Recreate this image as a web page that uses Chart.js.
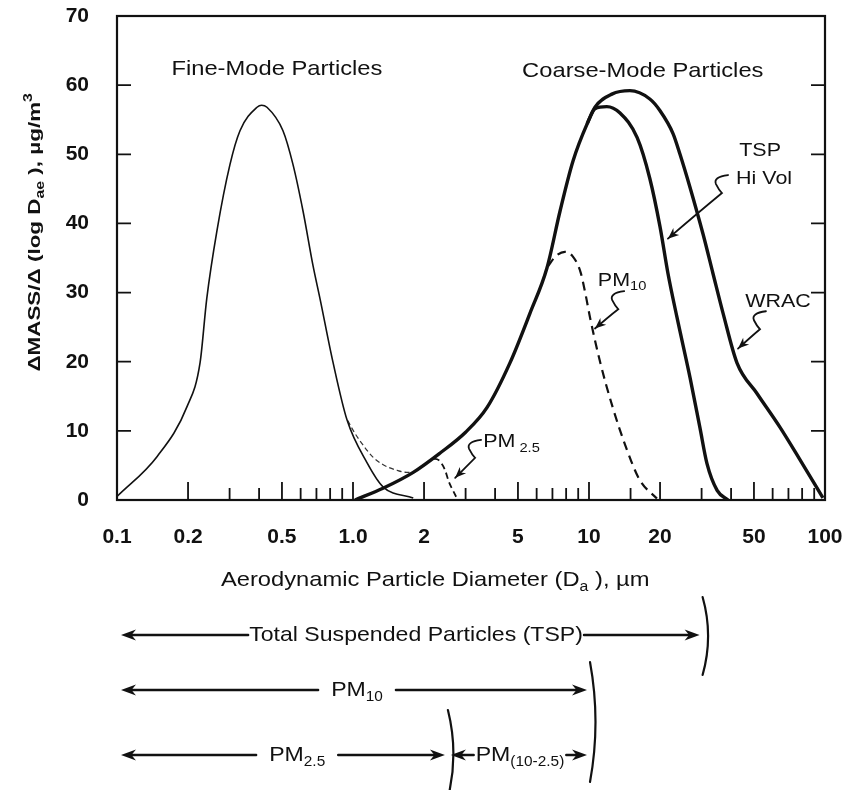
<!DOCTYPE html>
<html>
<head>
<meta charset="utf-8">
<script src="https://cdn.jsdelivr.net/npm/chart.js@4.4.1/dist/chart.umd.min.js"></script>
<style>
  html, body { margin: 0; padding: 0; background: #fff; }
</style>
</head>
<body>
<canvas id="chart" width="847" height="790"></canvas>
<script>
// ---- data (diameter in um, dM/dlogD in ug/m3) ----
var fineD = [0.1, 0.148, 0.198, 0.225, 0.24, 0.265, 0.301, 0.332, 0.392, 0.41, 0.432, 0.505, 0.557, 0.614, 0.677, 0.725, 0.823, 0.943, 1.146, 1.34, 1.8];
var fineV = [0.5, 6.3, 13.5, 19.9, 29.1, 38.9, 48.5, 53.4, 56.8, 57.1, 56.8, 53.4, 48.5, 41.8, 33.9, 29.1, 19.9, 11.6, 5.4, 1.9, 0.3];

// thin dashed PM2.5 tail between the modes
var pm25TailD = [0.95, 1.0, 1.1, 1.215, 1.36, 1.536, 1.69, 1.8];
var pm25TailV = [11.5, 10.1, 8.0, 6.2, 5.0, 4.3, 4.0, 4.0];

// small dashed PM2.5 cut-off in the coarse mode
var pm25CapD = [2.2, 2.3, 2.45, 2.55, 2.65, 2.78];
var pm25CapV = [6.0, 5.8, 4.4, 2.6, 1.4, 0];

// TSP Hi Vol (inner thick curve, shares the rising limb)
var tspD = [1.02, 1.34, 1.8, 2.34, 3.0, 3.7, 4.62, 5.62, 6.64, 7.54, 8.55, 9.82, 10.6, 11.9, 13.5, 16.0, 18.1, 20.0, 21.6, 23.6, 26.8, 29.5, 31.6, 34.9, 38.8];
var tspV = [0, 1.7, 4.0, 6.8, 9.8, 13.4, 19.8, 27.0, 33.6, 41.8, 49.0, 54.4, 56.6, 56.9, 56.0, 52.4, 46.5, 39.5, 32.8, 26.4, 17.7, 10.5, 5.3, 1.4, 0];

// WRAC (outer thick curve)
var wracD = [9.82, 10.6, 12.5, 14.9, 18.1, 20.0, 22.7, 24.3, 26.8, 30.4, 33.5, 37.0, 42.4, 51.5, 64.5, 78.4, 98];
var wracV = [54.4, 56.8, 58.7, 59.2, 58.0, 56.3, 53.0, 50.0, 45.2, 38.5, 32.8, 27.0, 19.8, 15.4, 10.5, 5.8, 0.3];

// PM10 (dashed)
var pm10D = [6.7, 7.2, 7.9, 8.5, 9.2, 9.7, 10.1, 11.1, 12.6, 14.5, 16.4, 19.4];
var pm10V = [33.8, 35.2, 35.9, 35.3, 33.0, 29.5, 26.4, 20.2, 13.4, 7.2, 2.9, 0.2];

var xTickVals = [0.1, 0.2, 0.5, 1, 2, 5, 10, 20, 50, 100];
var xTickLabels = ['0.1', '0.2', '0.5', '1.0', '2', '5', '10', '20', '50', '100'];
var xMarksTall = [0.2, 0.5, 1, 2, 5, 10, 20, 50];
var xMarksShort = [0.3, 0.4, 0.6, 0.7, 0.8, 0.9, 3, 4, 6, 7, 8, 9, 15, 30, 40, 60, 70, 80, 90];
var yMarks = [10, 20, 30, 40, 50, 60];

var INK = '#111';
var FAM = "'Liberation Sans', Arial, sans-serif";

function pts(xs, ys) {
  return xs.map(function (x, i) { return { x: x, y: ys[i] }; });
}

// text with sub/superscript pieces: parts = [[text, 'n'|'sub'|'sup'], ...]
function richText(ctx, parts, x, y, size, opts) {
  opts = opts || {};
  var sx = opts.sx || 1, weight = opts.weight || 'normal', align = opts.align || 'center';
  function fontFor(p) {
    var fs = p[1] === 'n' ? size : Math.round(size * 0.68);
    return weight + ' ' + fs + 'px ' + FAM;
  }
  var widths = parts.map(function (p) {
    ctx.font = fontFor(p);
    return ctx.measureText(p[0]).width;
  });
  var total = widths.reduce(function (a, b) { return a + b; }, 0);
  ctx.save();
  ctx.translate(x, y);
  if (opts.rotate) ctx.rotate(opts.rotate);
  ctx.scale(sx, 1);
  ctx.textAlign = 'left';
  ctx.textBaseline = 'middle';
  ctx.fillStyle = INK;
  var cx = align === 'center' ? -total / 2 : (align === 'right' ? -total : 0);
  parts.forEach(function (p, i) {
    ctx.font = fontFor(p);
    var dy = p[1] === 'sub' ? size * 0.32 : (p[1] === 'sup' ? -size * 0.38 : 0);
    ctx.fillText(p[0], cx, dy);
    cx += widths[i];
  });
  ctx.restore();
  return total * sx;
}

function head(ctx, x, y, ang, len, half) {
  ctx.beginPath();
  ctx.moveTo(x, y);
  ctx.lineTo(x - len * Math.cos(ang) + half * Math.sin(ang), y - len * Math.sin(ang) - half * Math.cos(ang));
  ctx.lineTo(x - len * 0.7 * Math.cos(ang), y - len * 0.7 * Math.sin(ang));
  ctx.lineTo(x - len * Math.cos(ang) - half * Math.sin(ang), y - len * Math.sin(ang) + half * Math.cos(ang));
  ctx.closePath();
  ctx.fill();
}

// labels inside the plot, anchored in data units
var plotLabels = [
  { at: [0.476, 62.3], parts: [['Fine-Mode Particles', 'n']], size: 21, align: 'center' },
  { at: [16.9, 62.0], parts: [['Coarse-Mode Particles', 'n']], size: 21, align: 'center' },
  { at: [53.1, 50.5], parts: [['TSP', 'n']], size: 19, align: 'center' },
  { at: [55.2, 46.5], parts: [['Hi Vol', 'n']], size: 19, align: 'center' },
  { at: [63.2, 28.6], parts: [['WRAC', 'n']], size: 19, align: 'center' },
  { at: [10.9, 31.7], parts: [['PM', 'n'], ['10', 'sub']], size: 19, align: 'left' },
  { at: [3.56, 8.4], parts: [['PM', 'n'], [' 2.5', 'sub']], size: 19, align: 'left' }
];
var pointers = [
  { tail: [38.8, 47.0], tip: [21.6, 37.8] },
  { tail: [56.2, 27.3], tip: [42.8, 21.9] },
  { tail: [14.1, 30.2], tip: [10.6, 24.8] },
  { tail: [3.49, 8.7], tip: [2.71, 3.2] }
];
// size-range rows under the axis (dy = pixels below the plot)
var rangeRows = [
  { dy: 135, from: 0.1, to: 30, at: 1.85, gap: 1, parts: [['Total Suspended Particles (TSP)', 'n']] },
  { dy: 190, from: 0.1, to: 10, at: 1.04, gap: 13, parts: [['PM', 'n'], ['10', 'sub']] },
  { dy: 255, from: 0.1, to: 2.5, at: 0.58, gap: 13, parts: [['PM', 'n'], ['2.5', 'sub']] },
  { dy: 255, from: 2.5, to: 10, at: 5.1, gap: 2, parts: [['PM', 'n'], ['(10-2.5)', 'sub']] }
];
var brackets = [
  { at: 30, dy0: 97, dy1: 175 },
  { at: 10, dy0: 162, dy1: 282 },
  { at: 2.5, dy0: 210, dy1: 298 }
];

var framePlugin = {
  id: 'frame',
  afterDatasetsDraw: function (chart) {
    var ctx = chart.ctx, a = chart.chartArea, xs = chart.scales.x, ys = chart.scales.y;
    ctx.save();
    ctx.strokeStyle = INK;
    ctx.lineWidth = 2.2;
    ctx.strokeRect(a.left, a.top, a.right - a.left, a.bottom - a.top);
    ctx.lineWidth = 1.8;
    ctx.beginPath();
    xMarksTall.forEach(function (v) {
      var x = xs.getPixelForValue(v);
      ctx.moveTo(x, a.bottom); ctx.lineTo(x, a.bottom - 18);
    });
    xMarksShort.forEach(function (v) {
      var x = xs.getPixelForValue(v);
      ctx.moveTo(x, a.bottom); ctx.lineTo(x, a.bottom - 12);
    });
    yMarks.forEach(function (v) {
      var y = ys.getPixelForValue(v);
      ctx.moveTo(a.left, y); ctx.lineTo(a.left + 14, y);
      ctx.moveTo(a.right, y); ctx.lineTo(a.right - 14, y);
    });
    ctx.stroke();
    ctx.restore();
  }
};

var notesPlugin = {
  id: 'notes',
  afterDraw: function (chart) {
    var ctx = chart.ctx, a = chart.chartArea, xs = chart.scales.x, ys = chart.scales.y;
    function px(p) { return { x: xs.getPixelForValue(p[0]), y: ys.getPixelForValue(p[1]) }; }
    ctx.save();
    ctx.fillStyle = INK;
    ctx.strokeStyle = INK;
    ctx.lineCap = 'round';

    plotLabels.forEach(function (l) {
      var p = px(l.at);
      richText(ctx, l.parts, p.x, p.y, l.size, { sx: 1.13, align: l.align });
    });

    // squiggle pointers
    ctx.lineWidth = 1.8;
    pointers.forEach(function (r) {
      var t = px(r.tail), e = px(r.tip);
      var bx = t.x - 6, by = t.y + 18;
      ctx.beginPath();
      ctx.moveTo(t.x, t.y);
      ctx.quadraticCurveTo(t.x - 15, t.y + 2, t.x - 12, t.y + 9);
      ctx.quadraticCurveTo(t.x - 9, t.y + 15, bx, by);
      var mx = (bx + e.x) / 2 + 3, my = (by + e.y) / 2 - 3;
      ctx.quadraticCurveTo(mx, my, e.x, e.y);
      ctx.stroke();
      head(ctx, e.x, e.y, Math.atan2(e.y - my, e.x - mx), 11, 4.5);
    });

    // axis titles
    richText(ctx, [['\u0394MASS/\u0394 (log D', 'n'], ['ae', 'sub'], [' ), \u00b5g/m', 'n'], ['3', 'sup']],
      a.left - 82, a.top + 0.447 * (a.bottom - a.top), 17, { weight: 'bold', sx: 1.32, rotate: -Math.PI / 2 });
    richText(ctx, [['Aerodynamic Particle Diameter (D', 'n'], ['a', 'sub'], [' ), \u00b5m', 'n']],
      xs.getPixelForValue(2.23), a.bottom + 80, 21, { sx: 1.13 });

    // size-range rows
    ctx.lineWidth = 2.4;
    rangeRows.forEach(function (r) {
      var y = a.bottom + r.dy;
      var x0 = xs.getPixelForValue(r.from) + 4, x1 = xs.getPixelForValue(r.to) - 2;
      var cx = xs.getPixelForValue(r.at);
      var w = richText(ctx, r.parts, cx, y, 21, { sx: 1.1 });
      ctx.beginPath();
      ctx.moveTo(x0 + 8, y); ctx.lineTo(cx - w / 2 - r.gap, y);
      ctx.moveTo(cx + w / 2 + r.gap, y); ctx.lineTo(x1 - 8, y);
      ctx.stroke();
      head(ctx, x0, y, Math.PI, 15, 5.5);
      head(ctx, x1, y, 0, 15, 5.5);
    });
    ctx.lineWidth = 2.2;
    brackets.forEach(function (b) {
      var x = xs.getPixelForValue(b.at) + 3;
      var y0 = a.bottom + b.dy0, y1 = a.bottom + b.dy1;
      ctx.beginPath();
      ctx.moveTo(x - 2, y0);
      ctx.quadraticCurveTo(x + 9, (y0 + y1) / 2, x - 2, y1);
      ctx.stroke();
    });
    ctx.restore();
  }
};

var chart = new Chart(document.getElementById('chart'), {
  type: 'scatter',
  data: {
    datasets: [
      { data: pts(tspD, tspV), showLine: true, borderColor: INK, borderWidth: 3.4 },
      { data: pts(wracD, wracV), showLine: true, borderColor: INK, borderWidth: 3.4 },
      { data: pts(fineD, fineV), showLine: true, borderColor: INK, borderWidth: 1.6 },
      { data: pts(pm10D, pm10V), showLine: true, borderColor: INK, borderWidth: 2.2, borderDash: [9, 6] },
      { data: pts(pm25CapD, pm25CapV), showLine: true, borderColor: INK, borderWidth: 1.8, borderDash: [6, 4] },
      { data: pts(pm25TailD, pm25TailV), showLine: true, borderColor: '#333', borderWidth: 1.2, borderDash: [5, 3] }
    ]
  },
  options: {
    responsive: false,
    animation: false,
    devicePixelRatio: 1,
    layout: { padding: { top: 16, right: 22, left: 0, bottom: 0 } },
    elements: {
      point: { radius: 0, hoverRadius: 0 },
      line: { cubicInterpolationMode: 'monotone' }
    },
    plugins: { legend: { display: false }, tooltip: { enabled: false } },
    scales: {
      x: {
        type: 'logarithmic', min: 0.1, max: 100,
        grid: { display: false }, border: { display: false },
        afterBuildTicks: function (s) { s.ticks = xTickVals.map(function (v) { return { value: v }; }); },
        afterFit: function (s) { s.height = 290; s.paddingLeft = 0; s.paddingRight = 0; },
        ticks: {
          autoSkip: false, maxRotation: 0, minRotation: 0, padding: 17, color: INK,
          font: { family: FAM, size: 21, weight: 'bold' },
          callback: function (v, i) { return xTickLabels[i]; }
        }
      },
      y: {
        min: 0, max: 70,
        grid: { display: false }, border: { display: false },
        afterFit: function (s) { s.width = 117; s.paddingTop = 0; s.paddingBottom = 0; },
        ticks: { stepSize: 10, padding: 20, color: INK, font: { family: FAM, size: 21, weight: 'bold' } }
      }
    }
  },
  plugins: [framePlugin, notesPlugin]
});
</script>
</body>
</html>
